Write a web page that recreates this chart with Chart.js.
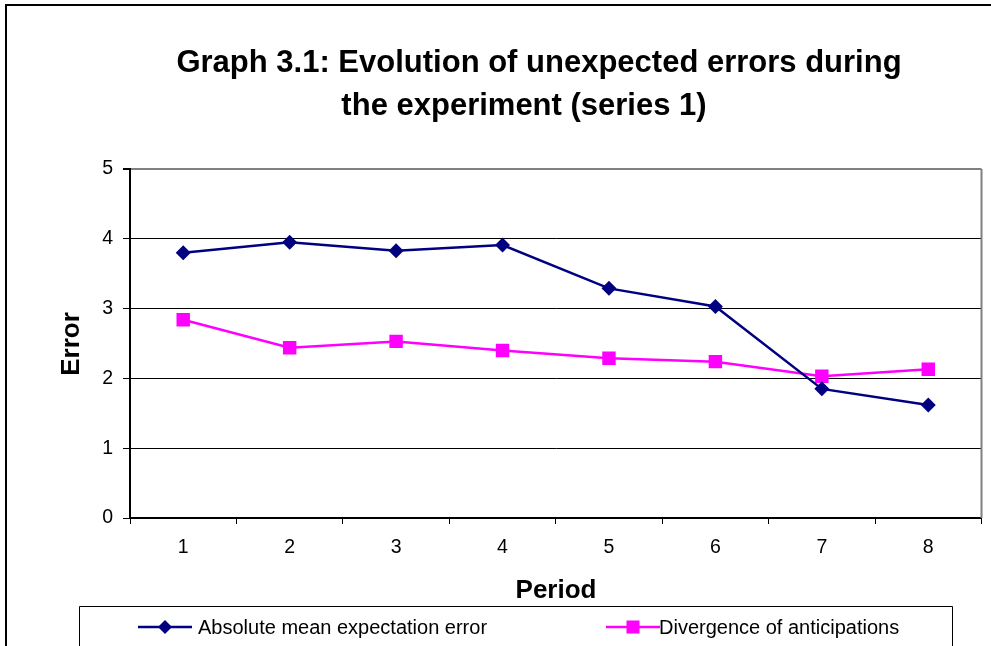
<!DOCTYPE html>
<html>
<head>
<meta charset="utf-8">
<script src="https://cdn.jsdelivr.net/npm/chart.js@4.4.1/dist/chart.umd.min.js"></script>
<style>
html, body { margin: 0; padding: 0; background: #fff; }
#chart { display: block; }
</style>
</head>
<body>
<canvas id="chart" width="991" height="646"></canvas>
<script>
// ---- data ----
const periods = ['1', '2', '3', '4', '5', '6', '7', '8'];
const absoluteError = [3.80, 3.95, 3.83, 3.91, 3.29, 3.03, 1.85, 1.62];
const divergence = [2.84, 2.44, 2.53, 2.40, 2.29, 2.24, 2.03, 2.13];
const yMin = 0;
const yMax = 5;
const titleLines = ['Graph 3.1: Evolution of unexpected errors during', 'the experiment (series 1)'];
const seriesNames = ['Absolute mean expectation error', 'Divergence of anticipations'];
const xTitle = 'Period';
const yTitle = 'Error';

const FONT = '"Liberation Sans", Arial, sans-serif';

// frame, titles and legend box (Excel look)
const excelFrame = {
    id: 'excelFrame',
    afterDraw(chart) {
        const ctx = chart.ctx;
        const area = chart.chartArea;
        ctx.save();

        // outer frame
        ctx.strokeStyle = '#000';
        ctx.lineWidth = 2;
        ctx.beginPath();
        ctx.moveTo(6, 646);
        ctx.lineTo(6, 5);
        ctx.lineTo(991, 5);
        ctx.stroke();

        // plot area right border
        ctx.strokeStyle = '#808080';
        ctx.lineWidth = 2;
        ctx.beginPath();
        ctx.moveTo(area.right, area.top);
        ctx.lineTo(area.right, area.bottom);
        ctx.stroke();

        // title
        ctx.fillStyle = '#000';
        ctx.textBaseline = 'middle';
        ctx.textAlign = 'center';
        ctx.font = 'bold 31px ' + FONT;
        ctx.fillText(titleLines[0], 539, 63);
        ctx.fillText(titleLines[1], 524, 106);

        // axis titles
        ctx.font = 'bold 26px ' + FONT;
        ctx.fillText(xTitle, 556, 591);
        ctx.save();
        ctx.translate(72, 344);
        ctx.rotate(-Math.PI / 2);
        ctx.fillText(yTitle, 0, 0);
        ctx.restore();

        // legend box
        ctx.strokeStyle = '#000';
        ctx.lineWidth = 1;
        ctx.beginPath();
        ctx.moveTo(79.5, 650);
        ctx.lineTo(79.5, 606.5);
        ctx.lineTo(952.5, 606.5);
        ctx.lineTo(952.5, 650);
        ctx.stroke();

        // legend entries, styled from the datasets
        const items = [
            { x: 138, text: 198 },
            { x: 606, text: 659 }
        ];
        const ly = 627;
        ctx.font = '20px ' + FONT;
        ctx.textAlign = 'left';
        chart.data.datasets.forEach((ds, i) => {
            const it = items[i];
            const cx = it.x + 27;
            ctx.strokeStyle = ds.borderColor;
            ctx.lineWidth = ds.borderWidth;
            ctx.beginPath();
            ctx.moveTo(it.x, ly);
            ctx.lineTo(it.x + 54, ly);
            ctx.stroke();

            ctx.fillStyle = ds.pointBackgroundColor;
            ctx.beginPath();
            if (ds.pointStyle === 'rect') {
                ctx.rect(cx - 6.5, ly - 6.5, 13, 13);
            } else {
                ctx.moveTo(cx - 7, ly);
                ctx.lineTo(cx, ly - 7);
                ctx.lineTo(cx + 7, ly);
                ctx.lineTo(cx, ly + 7);
                ctx.closePath();
            }
            ctx.fill();

            ctx.fillStyle = '#000';
            ctx.textBaseline = 'middle';
            ctx.fillText(ds.label, it.text, ly + 1);
        });

        ctx.restore();
    }
};

new Chart(document.getElementById('chart'), {
    type: 'line',
    data: {
        labels: periods,
        datasets: [
            {
                label: seriesNames[0],
                data: absoluteError,
                borderColor: '#000080',
                backgroundColor: '#000080',
                pointBackgroundColor: '#000080',
                pointBorderColor: '#000080',
                pointStyle: 'rectRot',
                pointRadius: 7.5,
                pointBorderWidth: 0,
                borderWidth: 2.5,
                tension: 0
            },
            {
                label: seriesNames[1],
                data: divergence,
                borderColor: '#ff00ff',
                backgroundColor: '#ff00ff',
                pointBackgroundColor: '#ff00ff',
                pointBorderColor: '#ff00ff',
                pointStyle: 'rect',
                pointRadius: 9.5,
                pointBorderWidth: 0,
                borderWidth: 2.5,
                tension: 0
            }
        ]
    },
    options: {
        responsive: false,
        animation: false,
        events: [],
        layout: {
            padding: { left: 0, right: 9, top: 169, bottom: 0 }
        },
        scales: {
            x: {
                offset: true,
                grid: {
                    offset: true,
                    drawOnChartArea: false,
                    color: '#000',
                    tickColor: '#000',
                    tickLength: 6
                },
                border: { color: '#000', width: 2 },
                ticks: {
                    color: '#000',
                    padding: 12,
                    maxRotation: 0,
                    font: { family: FONT, size: 19.5 }
                },
                afterFit(scale) { scale.height = 128; }
            },
            y: {
                min: yMin,
                max: yMax,
                grid: {
                    color: c => (c.tick && c.tick.value === yMax ? '#808080' : '#000'),
                    tickColor: '#000',
                    lineWidth: c => (c.tick && c.tick.value === yMax ? 2 : 1),
                    tickLength: 7
                },
                border: { color: '#000', width: 2 },
                ticks: {
                    stepSize: 1,
                    color: '#000',
                    padding: 10,
                    font: { family: FONT, size: 19.5 }
                },
                afterFit(scale) { scale.width = 130; }
            }
        },
        plugins: {
            legend: { display: false },
            title: { display: false },
            tooltip: { enabled: false }
        }
    },
    plugins: [excelFrame]
});
</script>
</body>
</html>
